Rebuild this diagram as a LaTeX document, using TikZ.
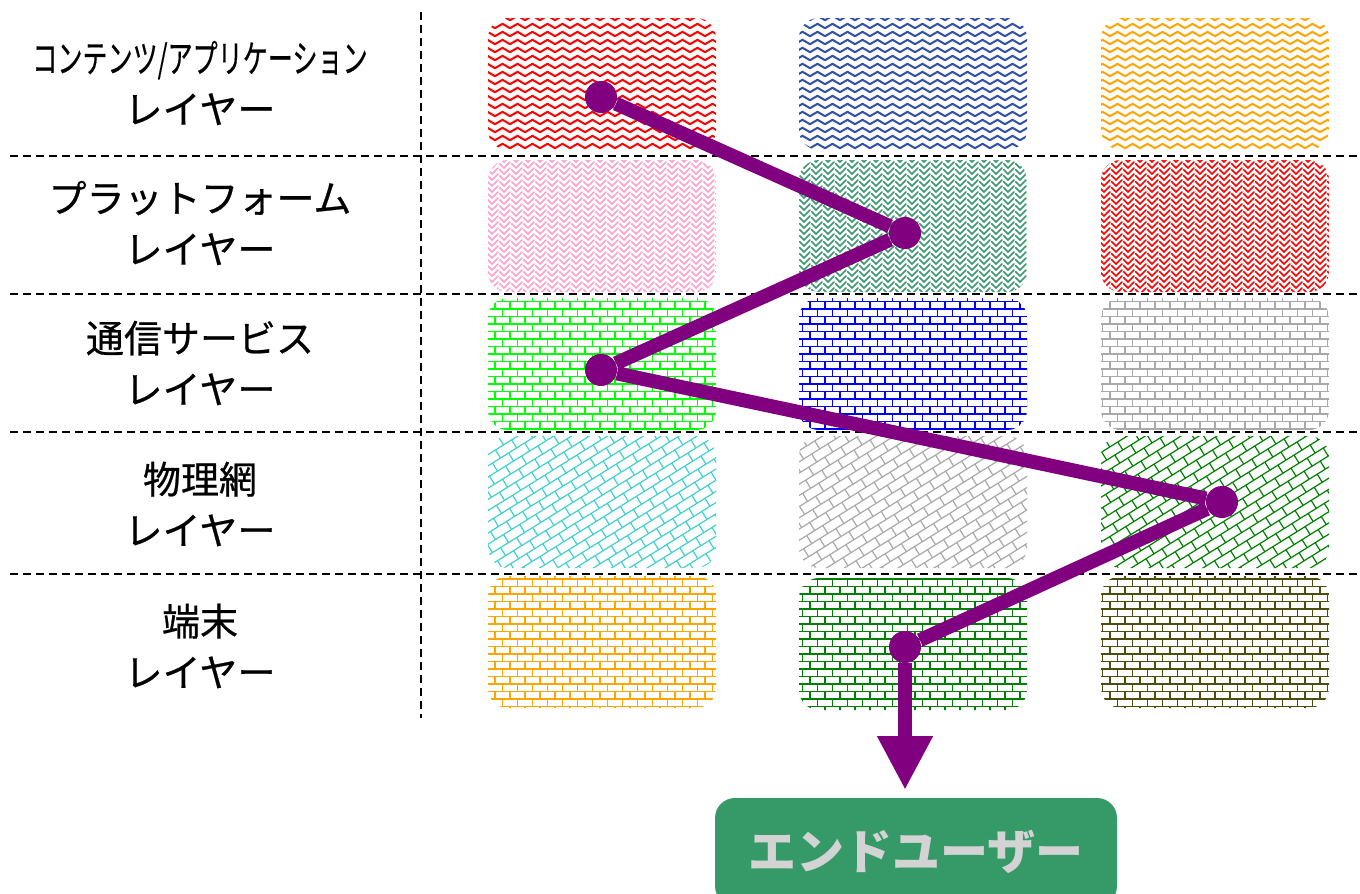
\documentclass[tikz,border=0pt]{standalone}
\usepackage{fontspec}
\newfontfamily\jpfont{Noto Sans CJK JP}
\newfontfamily\jplabel{Noto Sans CJK JP}[FakeBold=0.6]
\usetikzlibrary{patterns.meta,arrows.meta}

\definecolor{routepurple}{RGB}{128,0,128}
\definecolor{zignavy}{HTML}{3050A8}
\definecolor{lightorange}{HTML}{FFA500}
\definecolor{softpink}{HTML}{FFA0D0}
\definecolor{seagreen}{HTML}{3A9A6E}
\definecolor{limegreen}{HTML}{00FF00}
\definecolor{brickgray}{HTML}{A9A9A9}
\definecolor{turquoise}{HTML}{40D0D0}
\definecolor{darkgreen}{HTML}{008000}
\definecolor{darkolive}{HTML}{4D4D0D}
\definecolor{userbox}{HTML}{359A68}
\definecolor{usertext}{HTML}{D3D3D3}

% wavy lines
\pgfdeclarepattern{
  name=zigzag, type=uncolored,
  bottom left={\pgfpoint{-0.6pt}{-0.6pt}},
  top right={\pgfpoint{7.6pt}{4.6pt}},
  tile size={\pgfpoint{7.5pt}{4pt}},
  code={
    \pgfsetlinewidth{1pt}
    \pgfsetroundjoin\pgfsetroundcap
    \pgfpathmoveto{\pgfpoint{0pt}{0.9pt}}
    \pgfpathlineto{\pgfpoint{3.75pt}{3.1pt}}
    \pgfpathlineto{\pgfpoint{7.5pt}{0.9pt}}
    \pgfusepath{stroke}
  }
}

% herringbone
\pgfdeclarepattern{
  name=herringbone, type=uncolored,
  bottom left={\pgfpoint{-0.5pt}{-0.5pt}},
  top right={\pgfpoint{6.5pt}{6.5pt}},
  tile size={\pgfpoint{6pt}{6pt}},
  code={
    \pgfsetlinewidth{0.8pt}
    \pgfsetroundcap
    \pgfpathmoveto{\pgfpoint{0pt}{0pt}}\pgfpathlineto{\pgfpoint{3pt}{3pt}}
    \pgfpathmoveto{\pgfpoint{0pt}{3pt}}\pgfpathlineto{\pgfpoint{3pt}{6pt}}
    \pgfpathmoveto{\pgfpoint{3.8pt}{2.2pt}}\pgfpathlineto{\pgfpoint{6pt}{0pt}}
    \pgfpathmoveto{\pgfpoint{3.8pt}{5.2pt}}\pgfpathlineto{\pgfpoint{6pt}{3pt}}
    \pgfusepath{stroke}
  }
}

% bricks, straight or turned
\pgfdeclarepattern{
  name=Bricks, type=uncolored,
  parameters={\brickw,\brickangle},
  bottom left={\pgfpoint{-0.5pt}{-0.5pt}},
  top right={\pgfpoint{\brickw+0.5pt}{\brickw+0.5pt}},
  tile size={\pgfpoint{\brickw}{\brickw}},
  tile transformation={\pgftransformrotate{\brickangle}},
  defaults={
    brick width/.store in=\brickw, brick width=7.5pt,
    brick angle/.store in=\brickangle, brick angle=0,
  },
  code={
    \pgfsetlinewidth{0.6pt}
    \pgfpathmoveto{\pgfpoint{0pt}{0pt}}\pgfpathlineto{\pgfpoint{\brickw}{0pt}}
    \pgfpathmoveto{\pgfpoint{0pt}{0.5*\brickw}}\pgfpathlineto{\pgfpoint{\brickw}{0.5*\brickw}}
    \pgfpathmoveto{\pgfpoint{0pt}{0pt}}\pgfpathlineto{\pgfpoint{0pt}{0.5*\brickw}}
    \pgfpathmoveto{\pgfpoint{0.5*\brickw}{0.5*\brickw}}\pgfpathlineto{\pgfpoint{0.5*\brickw}{\brickw}}
    \pgfusepath{stroke}
  }
}

\begin{document}
\begin{tikzpicture}[x=0.5pt,y=-0.5pt,
    layerline/.style={dash pattern=on 4pt off 2.5pt, line width=0.9pt},
    cell/.style={rounded corners=10pt, minimum width=114pt, minimum height=66pt,
      inner sep=0pt, preaction={fill=white}},
    wave/.style={cell, pattern=zigzag, pattern color=#1},
    weave/.style={cell, pattern=herringbone, pattern color=#1},
    brick/.style={cell, pattern={Bricks}, pattern color=#1},
    slant/.style={cell, pattern={Bricks[brick width=9.5pt, brick angle=32]}, pattern color=#1},
    layerlabel/.style={font=\jplabel\fontsize{19}{25.5}\selectfont, align=center},
    dot/.style={circle, fill=routepurple, minimum size=16pt, inner sep=0pt},
    route/.style={draw=routepurple, line width=7pt}]
    \useasboundingbox (0,0) rectangle (1360,894);

    % layer separators
    \draw [layerline] (421,12) -- (421,718);
    \draw [layerline] (10,156) -- (1360,156);
    \draw [layerline] (10,294) -- (1360,294);
    \draw [layerline] (10,432) -- (1360,432);
    \draw [layerline] (10,574) -- (1360,574);

    % layer names
    \node [layerlabel] (lapp) at (200,83) {\scalebox{0.66}[1.0]{コンテンツ/アプリケーション}\\レイヤー};
    \node [layerlabel] (lplat) at (200,223) {プラットフォーム\\レイヤー};
    \node [layerlabel] (lcomm) at (200,363) {通信サービス\\レイヤー};
    \node [layerlabel] (lphys) at (200,504) {物理網\\レイヤー};
    \node [layerlabel] (lterm) at (200,646) {端末\\レイヤー};

    % cells
    \node [wave=red] (app1) at (602,84) {};
    \node [wave=zignavy] (app2) at (913,84) {};
    \node [wave=lightorange] (app3) at (1215,84) {};
    \node [weave=softpink] (plat1) at (602,226) {};
    \node [weave=seagreen] (plat2) at (913,226) {};
    \node [weave=red] (plat3) at (1215,226) {};
    \node [brick=limegreen] (comm1) at (602,364) {};
    \node [brick=blue] (comm2) at (913,364) {};
    \node [brick=brickgray] (comm3) at (1215,364) {};
    \node [slant=turquoise] (phys1) at (602,502) {};
    \node [slant=brickgray] (phys2) at (913,502) {};
    \node [slant=darkgreen] (phys3) at (1215,502) {};
    \node [brick=lightorange] (term1) at (602,642) {};
    \node [brick=darkgreen] (term2) at (913,644) {};
    \node [brick=darkolive] (term3) at (1215,642) {};

    % route
    \node [dot] (dapp) at (601,97) {};
    \node [dot] (dplat) at (905,233) {};
    \node [dot] (dcomm) at (601,370) {};
    \node [dot] (dphys) at (1222,502) {};
    \node [dot] (dterm) at (905,647) {};
    \coordinate (tip) at (905,790);
    \draw [route] (dapp) -- (dplat) -- (dcomm) -- (dphys) -- (dterm);
    \draw [route, -{Triangle[width=26pt,length=27pt]}] (dterm) -- (tip);

    \node [fill=userbox, rounded corners=10pt, minimum width=201pt, minimum height=54pt,
      text=usertext, font=\jpfont\bfseries\fontsize{24}{28}\selectfont] (user) at (916,852) {エンドユーザー};
\end{tikzpicture}
\end{document}
